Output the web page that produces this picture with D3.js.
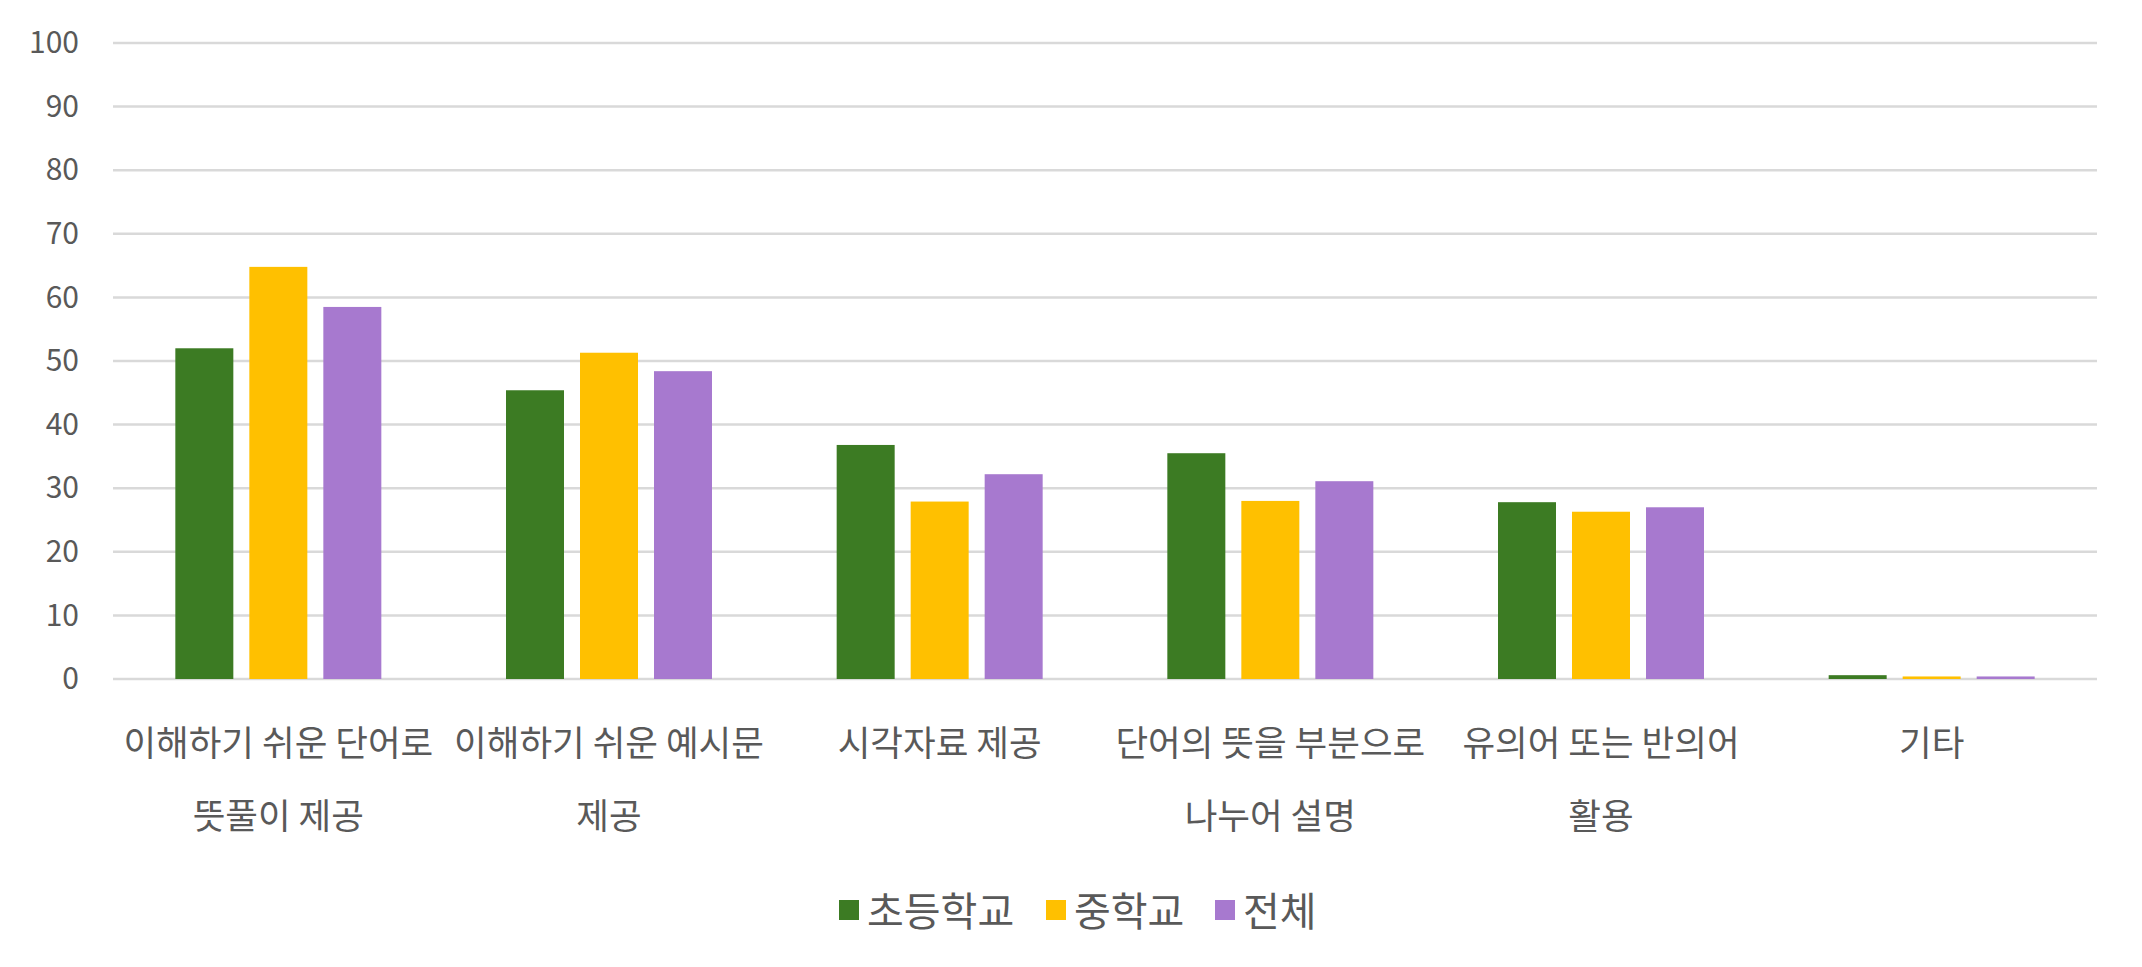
<!DOCTYPE html>
<html><head><meta charset="utf-8">
<script src="https://cdn.jsdelivr.net/npm/d3@7"></script>
<style>
html,body{margin:0;padding:0;background:#fff;}
text{font-family:"Noto Sans CJK KR","Noto Sans",sans-serif;fill:#595959;}
</style></head>
<body><svg id="chart" width="2142" height="967"></svg>
<script>
const categories = [
  "이해하기 쉬운 단어로\n뜻풀이 제공",
  "이해하기 쉬운 예시문\n제공",
  "시각자료 제공",
  "단어의 뜻을 부분으로\n나누어 설명",
  "유의어 또는 반의어\n활용",
  "기타"
];
const seriesNames = ["초등학교", "중학교", "전체"];
const elementary = [52.0, 45.4, 36.8, 35.5, 27.8, 0.6];
const middle     = [64.8, 51.3, 27.9, 28.0, 26.3, 0.4];
const total      = [58.5, 48.4, 32.2, 31.1, 27.0, 0.4];
const colors = ["#3C7B23", "#FFC000", "#A779CF"];
const yTicks = [0,10,20,30,40,50,60,70,80,90,100];

const seriesValues = [elementary, middle, total];
const svg = d3.select("#chart");
const mLeft = 113, mRight = 2097, mTop = 43, mBottom = 679;

const x0 = d3.scaleBand().domain(categories).range([mLeft, mRight]).padding(0);
const x1 = d3.scaleBand().domain(seriesNames).range([-103, 103]).paddingInner(16/74).paddingOuter(0);
const y = d3.scaleLinear().domain([0, 100]).range([mBottom, mTop]);

// gridlines
svg.append("g").selectAll("line").data(yTicks).join("line")
  .attr("x1", mLeft).attr("x2", mRight)
  .attr("y1", d => y(d)).attr("y2", d => y(d))
  .attr("stroke", "#D9D9D9").attr("stroke-width", 2.5);

// y axis labels
const yAxis = d3.axisLeft(y).tickValues(yTicks).tickSize(0).tickPadding(0);
const ya = svg.append("g").attr("transform", "translate(79,0)").call(yAxis);
ya.select(".domain").remove();
ya.selectAll("text").attr("font-size", 30).attr("fill", "#595959")
  .style("font-family", '"Noto Sans CJK KR","Noto Sans",sans-serif');

// bars
const groups = svg.append("g").selectAll("g").data(categories).join("g")
  .attr("transform", d => `translate(${x0(d) + x0.bandwidth()/2},0)`);
groups.selectAll("rect").data((c, i) => seriesNames.map((s, j) => ({s, v: seriesValues[j][i], j})))
  .join("rect")
  .attr("x", d => x1(d.s)).attr("width", x1.bandwidth())
  .attr("y", d => y(d.v)).attr("height", d => y(0) - y(d.v))
  .attr("fill", d => colors[d.j]);

// category labels
const lab = svg.append("g").selectAll("text").data(categories).join("text")
  .attr("text-anchor", "middle").attr("font-size", 35.5)
  .attr("x", d => x0(d) + x0.bandwidth()/2);
lab.each(function(d){
  const lines = d.split("\n");
  const t = d3.select(this);
  lines.forEach((ln, k) => {
    t.append("tspan").attr("x", x0(d) + x0.bandwidth()/2)
      .attr("y", 740 + k*73).attr("dominant-baseline", "central").text(ln);
  });
});

// legend
const legendItems = [{x: 839, tx: 867}, {x: 1046, tx: 1074}, {x: 1215, tx: 1243}];
const lg = svg.append("g").selectAll("g").data(seriesNames).join("g");
lg.append("rect").attr("x", (d,i) => legendItems[i].x).attr("y", 900)
  .attr("width", 20).attr("height", 20).attr("fill", (d,i) => colors[i]);
lg.append("text").attr("x", (d,i) => legendItems[i].tx).attr("y", 909)
  .attr("dominant-baseline", "central").attr("font-size", 40).text(d => d);
</script></body></html>
